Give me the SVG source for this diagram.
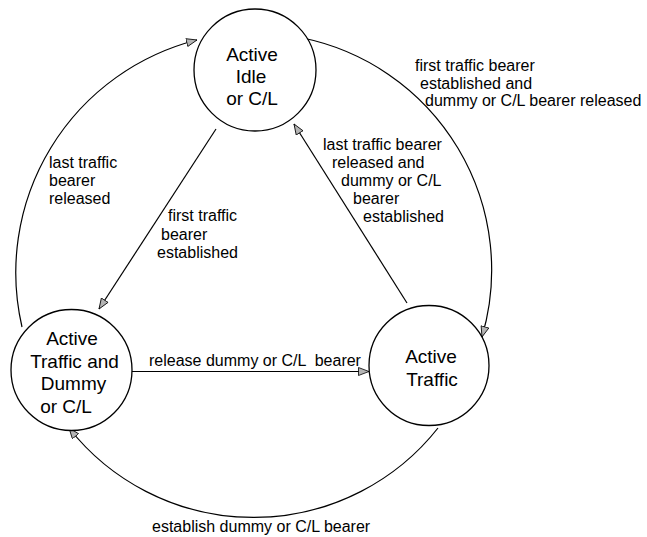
<svg xmlns="http://www.w3.org/2000/svg" width="647" height="537" viewBox="0 0 647 537">
  <style>
    .state { fill: #ffffff; stroke: #000000; stroke-width: 1.3; }
    .node-text { font-family: "Liberation Sans", Arial, sans-serif; font-size: 19px; fill: #000000; text-anchor: middle; }
    .edge { fill: none; stroke: #000000; stroke-width: 1.2; marker-end: url(#arrow); }
    .label { font-family: "Liberation Sans", Arial, sans-serif; font-size: 16px; fill: #000000; }
  </style>
  <defs>
    <marker id="arrow" markerUnits="userSpaceOnUse" markerWidth="14" markerHeight="12" refX="11" refY="4.5" orient="auto">
      <path d="M0.5,0.5 L11,4.5 L0.5,8.5 Z" fill="#b4b4b4" stroke="#000000" stroke-width="0.8"/>
    </marker>
  </defs>

  <rect width="647" height="537" fill="#ffffff"/>

  <!-- transitions -->
  <g id="connectors">
    <!-- Active Traffic and Dummy -> Active Idle (outer left arc) -->
    <path class="edge" d="M22,327 A240,240 0 0 1 197,40"/>
    <!-- Active Idle -> Active Traffic (outer right arc) -->
    <path class="edge" d="M303,38 A237,237 0 0 1 482,337"/>
    <!-- Active Traffic -> Active Traffic and Dummy (outer bottom arc) -->
    <path class="edge" d="M438,428 A235,235 0 0 1 69,428"/>
    <!-- Active Idle -> Active Traffic and Dummy -->
    <path class="edge" d="M216,129 L99,309"/>
    <!-- Active Traffic -> Active Idle -->
    <path class="edge" d="M407,303 L294,124"/>
    <!-- Active Traffic and Dummy -> Active Traffic -->
    <path class="edge" d="M132,371.5 L369,371.5"/>

    <text class="label" x="49" y="168">last traffic</text>
    <text class="label" x="49" y="186">bearer</text>
    <text class="label" x="49" y="204">released</text>

    <text class="label" x="168" y="221">first traffic</text>
    <text class="label" x="161" y="240">bearer</text>
    <text class="label" x="157" y="258">established</text>

    <text class="label" x="415" y="71">first traffic bearer</text>
    <text class="label" x="420" y="89">established and</text>
    <text class="label" x="425" y="106">dummy or C/L bearer released</text>

    <text class="label" x="323" y="150">last traffic bearer</text>
    <text class="label" x="332" y="168">released and</text>
    <text class="label" x="341" y="186">dummy or C/L</text>
    <text class="label" x="353" y="204">bearer</text>
    <text class="label" x="363" y="222">established</text>

    <text class="label" x="149" y="366" xml:space="preserve">release dummy or C/L  bearer</text>

    <text class="label" x="152" y="532">establish dummy or C/L bearer</text>
  </g>

  <!-- states -->
  <g id="active-idle">
    <circle class="state" cx="255" cy="70" r="61"/>
    <text class="node-text" x="252" y="61">Active</text>
    <text class="node-text" x="251" y="83">Idle</text>
    <text class="node-text" x="252" y="105">or C/L</text>
  </g>

  <g id="active-traffic-dummy">
    <circle class="state" cx="71.5" cy="370" r="60.5"/>
    <text class="node-text" x="72" y="345">Active</text>
    <text class="node-text" x="74.5" y="367.5">Traffic and</text>
    <text class="node-text" x="73.5" y="390">Dummy</text>
    <text class="node-text" x="66" y="412.5">or C/L</text>
  </g>

  <g id="active-traffic">
    <circle class="state" cx="429" cy="365.5" r="60"/>
    <text class="node-text" x="431" y="362.5">Active</text>
    <text class="node-text" x="432" y="386">Traffic</text>
  </g>
</svg>
